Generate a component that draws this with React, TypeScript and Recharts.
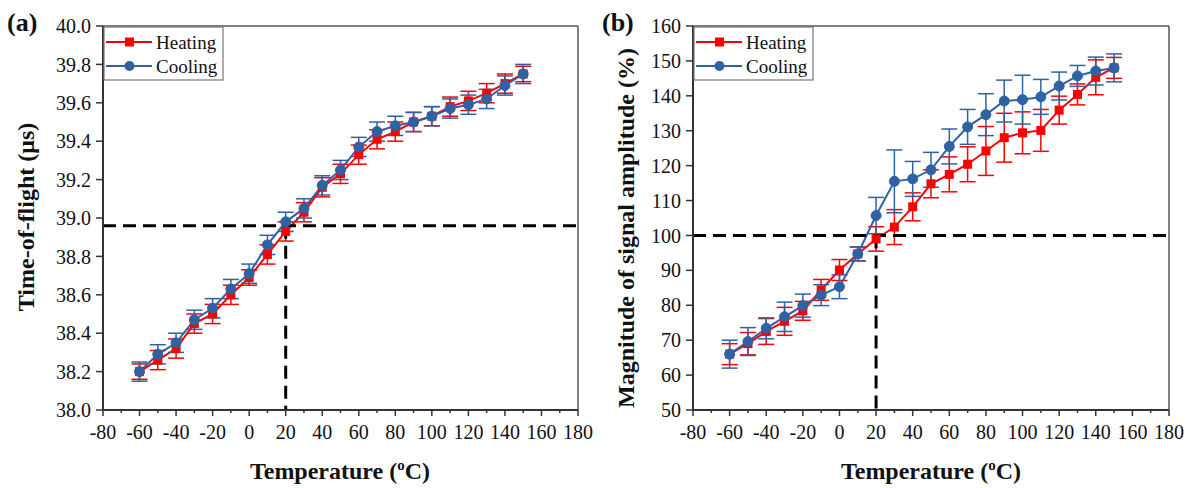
import { ErrorBar, Line, LineChart, ReferenceLine, XAxis, YAxis } from 'recharts';

// temperature steps shared by both panels
const temps = [-60, -50, -40, -30, -20, -10, 0, 10, 20, 30, 40, 50, 60, 70, 80, 90, 100, 110, 120, 130, 140, 150];

// (a) time-of-flight, µs
const tofHeating = [38.2, 38.26, 38.32, 38.45, 38.5, 38.6, 38.69, 38.81, 38.93, 39.03, 39.16, 39.23, 39.33, 39.41, 39.45, 39.5, 39.53, 39.58, 39.61, 39.65, 39.7, 39.75];
const tofHeatingErr = [0.04, 0.05, 0.05, 0.05, 0.05, 0.05, 0.04, 0.05, 0.05, 0.05, 0.05, 0.05, 0.05, 0.05, 0.05, 0.05, 0.05, 0.05, 0.05, 0.05, 0.05, 0.04];
const tofCooling = [38.2, 38.29, 38.35, 38.47, 38.53, 38.63, 38.71, 38.86, 38.98, 39.05, 39.17, 39.25, 39.37, 39.45, 39.48, 39.5, 39.53, 39.57, 39.59, 39.62, 39.69, 39.75];
const tofCoolingErr = [0.05, 0.05, 0.05, 0.05, 0.05, 0.05, 0.05, 0.05, 0.05, 0.05, 0.05, 0.05, 0.05, 0.05, 0.05, 0.05, 0.05, 0.05, 0.05, 0.05, 0.05, 0.05];

// (b) magnitude of signal amplitude, %
const ampHeating = [66, 69, 72.5, 75.4, 78.4, 84.4, 90.1, 94.7, 99, 102.4, 108.2, 114.8, 117.5, 120.4, 124.2, 128, 129.4, 130.1, 135.9, 140.4, 145.3, 148];
const ampHeatingErr = [3, 3.2, 3.7, 4, 2.7, 3, 3, 2, 3.5, 5, 4, 4, 5, 5, 7, 7, 6, 6, 4, 3, 5, 3];
const ampCooling = [66, 69.6, 73.4, 76.7, 79.9, 82.9, 85.3, 94.7, 105.7, 115.5, 116.2, 118.8, 125.5, 131.1, 134.6, 138.5, 138.9, 139.7, 142.8, 145.7, 147.1, 148];
const ampCoolingErr = [4, 4, 3, 4.2, 3.3, 3, 3.4, 2, 5.2, 9, 5, 5, 5, 5, 6, 6, 7, 5, 4, 3, 4, 4];

const xTicks = [-80, -70, -60, -50, -40, -30, -20, -10, 0, 10, 20, 30, 40, 50, 60, 70, 80, 90, 100, 110, 120, 130, 140, 150, 160, 170, 180];
const tofTicks = [38.0, 38.2, 38.4, 38.6, 38.8, 39.0, 39.2, 39.4, 39.6, 39.8, 40.0];
const ampTicks = [50, 60, 70, 80, 90, 100, 110, 120, 130, 140, 150, 160];

const RED = '#FF0000';
const BLUE = '#2F62A2';
const AXIS = '#333';
const FONT = '"Liberation Serif", "Times New Roman", serif';

const XTick = ({ x, y, payload }: any) => {
  const major = payload.value % 20 === 0;
  return (
    <g>
      <line x1={x} x2={x} y1={y} y2={y + (major ? 6 : 3)} stroke={AXIS} strokeWidth={1.5} />
      {major && (
        <text x={x} y={y + 29} textAnchor="middle" fontSize={20} fontFamily={FONT} fill="#111">
          {payload.value}
        </text>
      )}
    </g>
  );
};

const SquareDot = ({ cx, cy, index }: any) => {
  if (cx == null || cy == null) return <g key={`sq-${index}`} />;
  return <rect key={`sq-${index}`} x={cx - 4.5} y={cy - 4.5} width={9} height={9} fill={RED} />;
};

interface PanelProps {
  heat: number[];
  heatErr: number[];
  cool: number[];
  coolErr: number[];
  yDomain: [number, number];
  yTicks: number[];
  yFmt: (v: number) => string;
  refY: number;
  right: number;
}

const Panel = ({ heat, heatErr, cool, coolErr, yDomain, yTicks, yFmt, refY, right }: PanelProps) => {
  const rows = temps.map((t, i) => ({
    t,
    heat: heat[i],
    heatErr: heatErr[i],
    cool: cool[i],
    coolErr: coolErr[i],
  }));
  return (
    <LineChart width={600} height={488} data={rows} margin={{ top: 26, right, bottom: 0, left: 0 }}>
      <XAxis
        dataKey="t"
        type="number"
        domain={[-80, 180]}
        ticks={xTicks}
        interval={0}
        tick={(p: any) => <XTick {...p} />}
        tickLine={false}
        tickSize={0}
        tickMargin={0}
        height={78}
        axisLine={{ stroke: AXIS, strokeWidth: 2 }}
        allowDataOverflow
      />
      <YAxis
        type="number"
        domain={yDomain}
        ticks={yTicks}
        interval={0}
        width={103}
        tickSize={7}
        tickMargin={5}
        tickLine={{ stroke: AXIS, strokeWidth: 1.5 }}
        axisLine={{ stroke: AXIS, strokeWidth: 2 }}
        tick={{ fontSize: 20, fontFamily: FONT, fill: '#111' }}
        tickFormatter={yFmt}
        allowDataOverflow
      />
      <ReferenceLine y={yDomain[1]} stroke="#555" strokeWidth={1.5} />
      <ReferenceLine x={180} stroke="#555" strokeWidth={1.5} />
      <Line
        dataKey="heat"
        stroke={RED}
        strokeWidth={2}
        dot={(p: any) => <SquareDot {...p} />}
        isAnimationActive={false}
      >
        <ErrorBar dataKey="heatErr" direction="y" width={8} stroke={RED} strokeWidth={1.5} isAnimationActive={false} />
      </Line>
      <Line
        dataKey="cool"
        stroke={BLUE}
        strokeWidth={2}
        dot={{ r: 5, fill: BLUE, stroke: BLUE, strokeWidth: 1 }}
        isAnimationActive={false}
      >
        <ErrorBar dataKey="coolErr" direction="y" width={8} stroke={BLUE} strokeWidth={1.5} isAnimationActive={false} />
      </Line>
      <ReferenceLine
        segment={[{ x: -80, y: refY }, { x: 180, y: refY }]}
        stroke="#000"
        strokeWidth={3}
        strokeDasharray="13 7"
      />
      <ReferenceLine
        segment={[{ x: 20, y: refY }, { x: 20, y: yDomain[0] }]}
        stroke="#000"
        strokeWidth={3}
        strokeDasharray="13 7"
      />
    </LineChart>
  );
};

const LegendBox = ({ x }: { x: number }) => (
  <g fontFamily={FONT} fontSize={19} fill="#111">
    <rect x={x} y={27} width={119} height={53} fill="#fff" stroke="#777" strokeWidth={1.2} />
    <line x1={x + 2} x2={x + 48} y1={42} y2={42} stroke={RED} strokeWidth={2} />
    <rect x={x + 21} y={37.5} width={9} height={9} fill={RED} />
    <text x={x + 52} y={49}>Heating</text>
    <line x1={x + 2} x2={x + 48} y1={66} y2={66} stroke={BLUE} strokeWidth={2} />
    <circle cx={x + 25.5} cy={66} r={5} fill={BLUE} />
    <text x={x + 52} y={73}>Cooling</text>
  </g>
);

const XTitle = ({ cx }: { cx: number }) => (
  <text x={cx} y={479} textAnchor="middle" fontFamily={FONT} fontWeight="bold" fontSize={24} fill="#111">
    Temperature (<tspan fontSize={15} dy={-9}>o</tspan>
    <tspan dy={9}>C)</tspan>
  </text>
);

export default function App() {
  return (
    <div style={{ position: 'absolute', left: 0, top: 0, width: 1195, height: 488, background: '#fff' }}>
      <div style={{ position: 'absolute', left: 0, top: 0 }}>
        <Panel
          heat={tofHeating}
          heatErr={tofHeatingErr}
          cool={tofCooling}
          coolErr={tofCoolingErr}
          yDomain={[38, 40]}
          yTicks={tofTicks}
          yFmt={(v) => v.toFixed(1)}
          refY={38.96}
          right={22}
        />
      </div>
      <div style={{ position: 'absolute', left: 590, top: 0 }}>
        <Panel
          heat={ampHeating}
          heatErr={ampHeatingErr}
          cool={ampCooling}
          coolErr={ampCoolingErr}
          yDomain={[50, 160]}
          yTicks={ampTicks}
          yFmt={(v) => String(v)}
          refY={100}
          right={21}
        />
      </div>
      <svg
        width={1195}
        height={488}
        style={{ position: 'absolute', left: 0, top: 0, pointerEvents: 'none' }}
      >
        <text x={7} y={31} fontFamily={FONT} fontWeight="bold" fontSize={26} fill="#111">(a)</text>
        <text x={602} y={31} fontFamily={FONT} fontWeight="bold" fontSize={26} fill="#111">(b)</text>
        <LegendBox x={104} />
        <LegendBox x={694} />
        <text
          transform="translate(34 217) rotate(-90)"
          textAnchor="middle"
          fontFamily={FONT}
          fontWeight="bold"
          fontSize={24}
          fill="#111"
        >
          Time-of-flight (μs)
        </text>
        <text
          transform="translate(634 228) rotate(-90)"
          textAnchor="middle"
          fontFamily={FONT}
          fontWeight="bold"
          fontSize={24}
          fill="#111"
        >
          Magnitude of signal amplitude (%)
        </text>
        <XTitle cx={340} />
        <XTitle cx={931} />
      </svg>
    </div>
  );
}
